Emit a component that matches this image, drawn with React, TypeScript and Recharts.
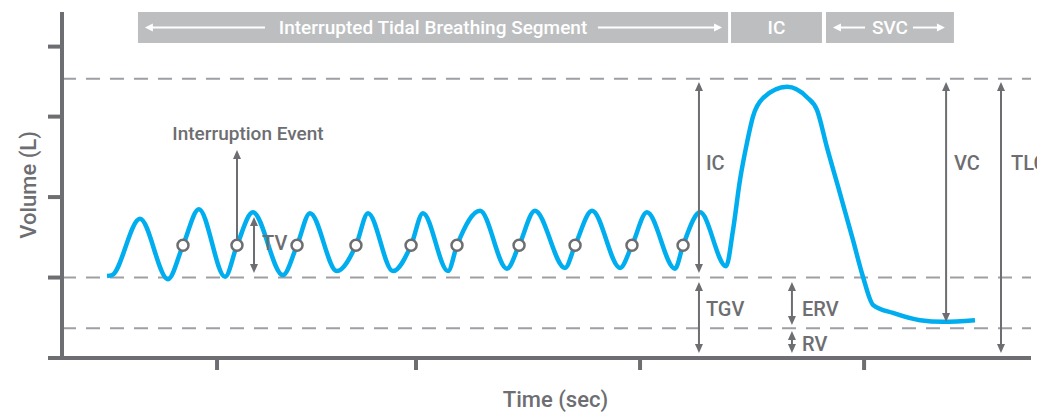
import React from 'react';
import { ComposedChart, Line, XAxis, YAxis, ReferenceLine, ReferenceArea, ReferenceDot } from 'recharts';

const GRAY = '#6d6e71';
const BLUE = '#00aeef';
const BAR = '#bcbec0';

// volume trace (time in sec, volume in L)
const traceTime = [2.01, 2.23, 3.48, 4.73, 5.40, 6.11, 7.28, 7.81, 8.52, 9.86, 10.49, 11.07, 12.27, 13.12, 13.66, 14.77, 15.58, 16.11, 17.23, 17.63, 18.66, 19.86, 20.40, 21.11, 22.45, 22.90, 23.66, 24.91, 25.44, 26.11, 27.36, 27.72, 28.48, 29.64, 29.95, 30.26, 30.57, 30.84, 31.29, 32.36, 33.25, 33.70, 34.14, 34.72, 35.30, 35.75, 36.20, 37.09, 38.30, 39.32, 40.75];
const traceVolume = [1.02, 1.03, 1.73, 0.98, 1.40, 1.85, 1.01, 1.40, 1.81, 1.03, 1.40, 1.80, 1.08, 1.40, 1.80, 1.08, 1.40, 1.80, 1.08, 1.40, 1.83, 1.11, 1.40, 1.83, 1.12, 1.40, 1.83, 1.12, 1.40, 1.81, 1.11, 1.40, 1.81, 1.14, 1.59, 2.21, 2.67, 3.00, 3.23, 3.37, 3.24, 3.08, 2.62, 2.05, 1.47, 1.01, 0.66, 0.56, 0.47, 0.45, 0.47];

// interruption markers
const markerTime = [5.40, 7.81, 10.49, 13.12, 15.58, 17.63, 20.40, 22.90, 25.44, 27.72];
const markerVolume = [1.40, 1.40, 1.40, 1.40, 1.40, 1.40, 1.40, 1.40, 1.40, 1.40];

// dashed levels: TLC, FRC, RV
const levels = [3.47, 1.0, 0.37];

const xTicks = [6.92, 15.8, 25.8, 35.8];
const yTicks = [0, 1, 2, 3, 3.87];

// measurement arrows
const arrowTime = [7.81, 8.57, 28.43, 28.43, 32.58, 32.58, 39.46, 41.91];
const arrowFrom = [1.48, 1.056, 1.056, 0.062, 0.41, 0.062, 0.447, 0.062];
const arrowTo = [2.585, 1.752, 3.43, 0.945, 0.945, 0.336, 3.43, 3.43];
const arrowBoth = [false, true, true, true, true, true, true, true];

// annotation labels
const labelText = ['Interruption Event', 'TV', 'IC', 'TGV', 'ERV', 'RV', 'VC', 'TLC'];
const labelTime = [8.30, 8.93, 28.74, 28.74, 33.03, 33.03, 39.81, 42.36];
const labelVolume = [2.796, 1.429, 2.423, 0.609, 0.609, 0.174, 2.423, 2.423];

// header segments
const segmentName = ['Interrupted Tidal Breathing Segment', 'IC', 'SVC'];
const segmentStart = [3.39, 29.86, 34.10];
const segmentEnd = [29.73, 33.92, 39.81];
const headerBottom = 3.915;
const headerTop = 4.3;
const headerArrowLevel = 4.107;
const headerArrowFrom = [9.06, 23.92, 35.84, 37.98];
const headerArrowTo = [3.70, 29.46, 34.41, 39.41];

const trace = traceTime.map((t, i) => ({ t, v: traceVolume[i] }));
const markers = markerTime.map((t, i) => ({ t, v: markerVolume[i] }));

const ArrowShape = (props: any) => {
  const { x1, y1, x2, y2, color, both, head = 9, half = 4, width = 2 } = props;
  const dx = x2 - x1;
  const dy = y2 - y1;
  const len = Math.hypot(dx, dy) || 1;
  const ux = dx / len;
  const uy = dy / len;
  const tri = (tx: number, ty: number, sx: number, sy: number) => {
    const bx = tx - sx * head;
    const by = ty - sy * head;
    return `M${tx},${ty} L${bx - sy * half},${by + sx * half} L${bx + sy * half},${by - sx * half} Z`;
  };
  const sx = both ? x1 + ux * (head - 1) : x1;
  const sy = both ? y1 + uy * (head - 1) : y1;
  return (
    <g>
      <line x1={sx} y1={sy} x2={x2 - ux * (head - 1)} y2={y2 - uy * (head - 1)} stroke={color} strokeWidth={width} />
      <path d={tri(x2, y2, ux, uy)} fill={color} />
      {both && <path d={tri(x1, y1, -ux, -uy)} fill={color} />}
    </g>
  );
};

const NoTick = () => <g />;

export default function App() {
  return (
    <div style={{ position: 'absolute', left: 0, top: 0 }}>
      <ComposedChart
        width={1037}
        height={412}
        margin={{ top: 12, right: 6, bottom: 0, left: 0 }}
        style={{ fontFamily: 'Roboto, sans-serif', fontWeight: 500 }}
      >
        <XAxis
          dataKey="t"
          type="number"
          domain={[0, 43.25]}
          ticks={xTicks}
          tick={NoTick}
          tickSize={12}
          height={54}
          axisLine={{ stroke: GRAY, strokeWidth: 4 }}
          tickLine={{ stroke: GRAY, strokeWidth: 4 }}
          label={{ value: 'Time (sec)', position: 'insideBottom', offset: 5, dx: 9, fill: GRAY, fontSize: 22 }}
        />
        <YAxis
          dataKey="v"
          type="number"
          domain={[0, 4.3]}
          ticks={yTicks}
          tick={NoTick}
          tickSize={14}
          width={62}
          axisLine={{ stroke: GRAY, strokeWidth: 4 }}
          tickLine={{ stroke: GRAY, strokeWidth: 4 }}
          label={{ value: 'Volume (L)', angle: -90, position: 'insideLeft', offset: 28, fill: GRAY, fontSize: 22, style: { textAnchor: 'middle' } }}
        />

        {levels.map((lv) => (
          <ReferenceLine key={'lv' + lv} y={lv} stroke="#9d9fa2" strokeWidth={2} strokeDasharray="14 10" />
        ))}

        {segmentName.map((name, i) => (
          <ReferenceArea
            key={name}
            x1={segmentStart[i]}
            x2={segmentEnd[i]}
            y1={headerBottom}
            y2={headerTop}
            fill={BAR}
            fillOpacity={1}
            stroke="none"
            label={{ value: name, position: 'center', fill: '#ffffff', fontSize: 19 }}
          />
        ))}

        {headerArrowFrom.map((from, i) => (
          <ReferenceLine
            key={'ha' + i}
            segment={[{ x: from, y: headerArrowLevel }, { x: headerArrowTo[i], y: headerArrowLevel }]}
            shape={(p: any) => <ArrowShape {...p} color="#ffffff" head={8} half={4} width={2} />}
          />
        ))}

        <Line
          data={trace}
          dataKey="v"
          type="monotone"
          stroke={BLUE}
          strokeWidth={4.5}
          dot={false}
          activeDot={false}
          isAnimationActive={false}
        />
        <Line
          data={markers}
          dataKey="v"
          stroke="none"
          dot={{ r: 5.5, fill: '#ffffff', stroke: GRAY, strokeWidth: 2.5 }}
          activeDot={false}
          isAnimationActive={false}
        />

        {arrowTime.map((t, i) => (
          <ReferenceLine
            key={'ar' + i}
            segment={[{ x: t, y: arrowFrom[i] }, { x: t, y: arrowTo[i] }]}
            shape={(p: any) => <ArrowShape {...p} color={GRAY} both={arrowBoth[i]} />}
          />
        ))}

        {labelText.map((txt, i) => (
          <ReferenceDot
            key={'lb' + i}
            x={labelTime[i]}
            y={labelVolume[i]}
            r={1}
            shape={(p: any) => (
              <text
                x={p.cx}
                y={p.cy}
                dy="0.36em"
                textAnchor={i === 0 ? 'middle' : 'start'}
                fill={GRAY}
                fontSize={i === 0 ? 19 : 20}
                fontWeight={500}
              >
                {txt}
              </text>
            )}
          />
        ))}
      </ComposedChart>
    </div>
  );
}
